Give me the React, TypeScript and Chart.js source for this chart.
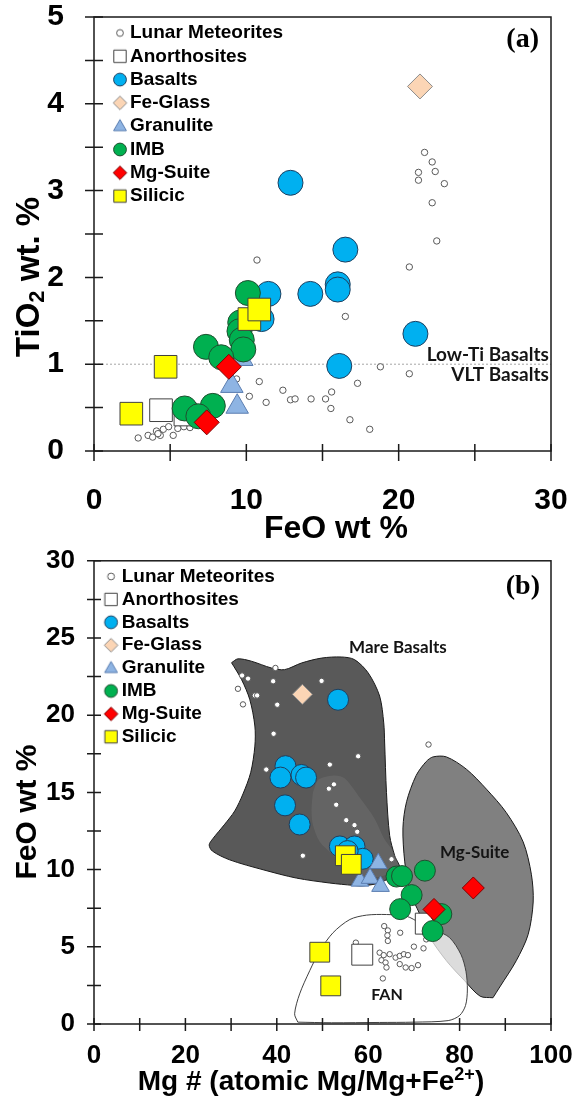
import React, { useEffect, useRef } from 'react';
import { Chart, registerables } from 'chart.js';

Chart.register(...registerables);

type Pt = [number, number];

// ---------------- Series names (legend order) ----------------
const seriesNames = ['Lunar Meteorites', 'Anorthosites', 'Basalts', 'Fe-Glass', 'Granulite', 'IMB', 'Mg-Suite', 'Silicic'];

// ---------------- Panel (a): FeO wt % (x) vs TiO2 wt % (y) ----------------
const aLunarMeteorites: Pt[] = [
  [21.7, 3.44], [22.2, 3.33], [21.3, 3.21], [22.4, 3.22], [21.3, 3.12], [23.0, 3.08], [22.2, 2.86], [22.5, 2.42],
  [20.7, 2.12], [16.5, 1.55], [18.8, 0.97], [20.7, 0.89], [17.3, 0.78], [16.8, 0.36], [18.1, 0.25], [10.7, 2.2],
  [10.85, 0.8], [12.4, 0.7], [12.9, 0.59], [13.2, 0.6], [14.25, 0.6], [15.2, 0.6], [15.6, 0.68], [15.55, 0.49],
  [10.2, 0.63], [11.3, 0.56], [9.36, 0.83],
  [2.9, 0.15], [3.55, 0.18], [3.85, 0.16], [4.1, 0.23], [4.35, 0.18], [4.55, 0.25], [4.9, 0.28], [5.2, 0.18],
  [5.5, 0.26], [5.9, 0.28], [6.3, 0.27], [4.2, 0.2],
];
const aAnorthosites: Pt[] = [[4.4, 0.47], [6.0, 0.42]];
const aBasalts: Pt[] = [[12.9, 3.09], [16.5, 2.32], [16.0, 1.92], [16.0, 1.86], [14.2, 1.81], [11.45, 1.81], [21.1, 1.35], [16.1, 0.98], [11.0, 1.52]];
const aFeGlass: Pt[] = [[21.4, 4.2]];
const aGranulite: Pt[] = [[9.05, 0.75], [9.4, 0.51], [9.7, 1.06]];
const aIMB: Pt[] = [[10.1, 1.82], [9.6, 1.48], [9.55, 1.38], [9.7, 1.28], [9.8, 1.17], [7.35, 1.2], [8.35, 1.08], [5.95, 0.49], [7.8, 0.52], [6.85, 0.4]];
const aMgSuite: Pt[] = [[8.85, 0.97], [7.4, 0.33]];
const aSilicic: Pt[] = [[2.45, 0.43], [4.7, 0.97], [10.2, 1.52], [10.85, 1.63]];
const aBoundaryLine: Pt[] = [[0, 1], [30, 1]];
const aXTickLabels = ['0', '10', '20', '30'];
const aYTickLabels = ['0', '1', '2', '3', '4', '5'];
const aBoundaryLabels = ['Low-Ti Basalts', 'VLT Basalts'];

// ---------------- Panel (b): Mg# (x) vs FeO wt % (y) ----------------
const bLunarMeteorites: Pt[] = [
  [39.7, 23.06], [32.4, 22.57], [33.7, 22.37], [39.2, 22.2], [49.8, 22.22], [31.5, 21.71], [35.2, 21.28], [35.7, 21.28],
  [32.6, 20.7], [40.1, 20.68], [39.3, 18.8], [57.8, 17.34], [37.7, 16.48], [51.6, 16.8], [52.5, 15.52], [51.4, 15.24],
  [53.0, 14.2], [55.2, 13.2], [57.0, 12.88], [57.6, 12.45], [45.7, 10.9], [65.1, 10.67], [73.2, 18.1],
  [57.3, 5.27], [63.5, 6.34], [64.3, 6.06], [64.2, 5.74], [64.3, 5.38], [67.0, 5.91], [62.5, 4.62], [63.4, 4.46],
  [64.7, 4.52], [66.0, 4.3], [66.9, 4.41], [67.8, 4.52], [68.7, 4.46], [62.9, 4.13], [63.8, 3.98], [66.9, 3.88],
  [68.2, 3.66], [69.5, 3.62], [70.9, 3.81], [64.0, 3.66], [63.2, 2.95], [70.0, 5.01], [72.1, 4.9], [72.7, 5.48],
];
const bAnorthosites: Pt[] = [[58.7, 4.49], [72.6, 6.5]];
const bBasalts: Pt[] = [[53.4, 21.0], [41.9, 16.7], [40.8, 15.96], [45.4, 16.13], [46.4, 15.96], [41.8, 14.16], [45.0, 12.92], [53.8, 11.5], [57.0, 11.5], [58.8, 10.7], [55.5, 11.2]];
const bFeGlass: Pt[] = [[45.6, 21.35]];
const bGranulite: Pt[] = [[62.2, 10.4], [58.2, 9.26], [60.4, 9.44], [62.7, 8.92]];
const bIMB: Pt[] = [[66.2, 9.55], [67.4, 9.58], [72.4, 9.93], [69.5, 8.35], [67.0, 7.44], [76.0, 7.12], [74.1, 6.02]];
const bMgSuite: Pt[] = [[83.0, 8.81], [74.4, 7.42]];
const bSilicic: Pt[] = [[55.0, 10.9], [56.3, 10.34], [49.4, 4.65], [51.8, 2.47]];
const bXTickLabels = ['0', '20', '40', '60', '80', '100'];
const bYTickLabels = ['0', '5', '10', '15', '20', '25', '30'];

// field outlines (data units)
const mareBasaltsField: Pt[] = [
  [30.1, 23.4], [31.5, 23.65], [34.4, 23.5], [38.8, 23.06], [41.7, 22.95], [45.4, 23.38], [49.8, 23.7], [54.1, 23.77],
  [57.0, 23.6], [60.0, 22.74], [62.5, 21.24], [63.4, 19.5], [63.6, 18.2], [64.0, 15.0], [64.7, 12.2], [65.8, 10.9],
  [66.9, 10.0], [63.0, 9.2], [59.0, 8.95], [56.7, 8.98], [51.6, 9.13], [44.3, 9.45], [37.0, 9.99], [29.7, 10.63],
  [25.9, 11.2], [25.2, 11.6], [26.0, 12.0], [28.5, 12.9], [30.8, 13.8], [32.6, 14.9], [34.3, 16.3], [35.2, 18.0],
  [35.2, 19.3], [34.1, 21.0], [32.3, 22.3], [30.1, 23.4],
];
const mareInnerField: Pt[] = [
  [47.9, 15.0], [49.0, 15.8], [50.5, 16.0], [52.7, 16.1], [54.9, 15.9], [58.3, 14.6], [61.4, 13.3], [63.5, 12.0],
  [65.4, 11.2], [66.5, 10.2], [62.0, 9.5], [56.0, 9.8], [52.3, 10.95], [49.4, 11.8], [47.9, 12.9], [47.6, 13.9], [47.9, 15.0],
];
const mgSuiteField: Pt[] = [
  [87.3, 1.7], [88.8, 2.4], [92.4, 4.1], [95.0, 5.8], [96.1, 7.9], [95.7, 9.7], [93.9, 11.8], [90.2, 13.7],
  [85.9, 15.2], [81.5, 16.5], [77.1, 17.3], [74.2, 17.3], [72.7, 17.0], [70.5, 16.1], [68.4, 14.4], [67.6, 12.7],
  [68.0, 10.5], [69.1, 8.6], [71.3, 7.1], [73.3, 5.7], [77.1, 4.1], [81.1, 2.8], [84.5, 1.8], [87.3, 1.7],
];
const fanField: Pt[] = [
  [44.6, 0.12], [43.9, 0.66], [45.0, 1.95], [47.2, 3.45], [49.4, 4.73], [52.3, 5.91], [56.0, 6.77], [59.6, 7.05],
  [64.0, 7.09], [68.4, 6.98], [71.3, 6.55], [74.5, 6.1], [77.8, 5.6], [80.3, 4.5], [81.4, 3.4], [81.7, 2.2],
  [81.3, 1.2], [80.0, 0.55], [77.5, 0.22], [70.0, 0.12], [62.5, 0.1], [52.0, 0.08], [44.6, 0.12],
];
const fieldNames = ['Mare Basalts', 'Mg-Suite', 'FAN'];
const fieldLabelAnchors: Pt[] = [[66.5, 24.4], [83.3, 11.08], [64.1, 1.87]];

// ---------------- Styles ----------------
const FAMILY = '"Liberation Sans", Arial, sans-serif';
const seriesStyles = [
  { shape: 'circle', fill: '#ffffff', stroke: '#595959' },
  { shape: 'rect', fill: '#ffffff', stroke: '#404040' },
  { shape: 'circle', fill: '#00B0F0', stroke: '#1F3F5F' },
  { shape: 'rectRot', fill: '#FBD5B5', stroke: '#8C8C8C' },
  { shape: 'triangle', fill: '#8EB4E3', stroke: '#5A7DB0' },
  { shape: 'circle', fill: '#00B050', stroke: '#1F4F2F' },
  { shape: 'rectRot', fill: '#FF0000', stroke: '#7F0000' },
  { shape: 'rect', fill: '#FFFF00', stroke: '#404040' },
];
const drawOrder = [8, 7, 6, 3, 5, 4, 2, 1];
const legendMarkerSize = [3.4, 6.2, 6.4, 6.8, 7.4, 6.4, 6.8, 6.2];

// legend marker image; the marker sits `shift` px right of the image centre
function markerImage(i: number, shift: number) {
  const c = document.createElement('canvas');
  c.width = 33; c.height = 17;
  const g = c.getContext('2d')!;
  const m = 8.5, cx = 16.5 + shift, r = legendMarkerSize[i];
  const s = seriesStyles[i];
  g.beginPath();
  if (s.shape === 'circle') g.arc(cx, m, r, 0, Math.PI * 2);
  else if (s.shape === 'rect') g.rect(cx - r, m - r, 2 * r, 2 * r);
  else if (s.shape === 'rectRot') { g.moveTo(cx, m - r); g.lineTo(cx + r, m); g.lineTo(cx, m + r); g.lineTo(cx - r, m); }
  else { const h = r * Math.sqrt(3) / 2; g.moveTo(cx, m - r * 0.9); g.lineTo(cx + h, m + r * 0.6); g.lineTo(cx - h, m + r * 0.6); }
  g.closePath();
  g.fillStyle = s.fill; g.fill();
  g.lineWidth = 1; g.strokeStyle = s.stroke; g.stroke();
  return c;
}

const toPoints = (arr: Pt[]) => arr.map(([x, y]) => ({ x, y }));

function drawRich(ctx: CanvasRenderingContext2D, t: any) {
  ctx.save();
  ctx.translate(t.x, t.y);
  if (t.rotate) ctx.rotate(t.rotate);
  ctx.fillStyle = '#000';
  ctx.textBaseline = 'middle';
  ctx.textAlign = 'left';
  let total = 0;
  const widths = t.parts.map((p: any) => {
    ctx.font = `bold ${p.size}px ${FAMILY}`;
    const w = ctx.measureText(p.text).width;
    total += w;
    return w;
  });
  let x = -total / 2;
  t.parts.forEach((p: any, i: number) => {
    ctx.font = `bold ${p.size}px ${FAMILY}`;
    ctx.fillText(p.text, x, p.dy || 0);
    x += widths[i];
  });
  ctx.restore();
}

const decorPlugin = {
  id: 'decor',
  afterDraw(chart: any, _args: any, o: any) {
    const { ctx, chartArea: ca } = chart;
    const xs = chart.scales.x, ys = chart.scales.y;
    ctx.save();
    ctx.strokeStyle = '#1a1a1a';
    ctx.lineWidth = 1.5;
    ctx.strokeRect(ca.left, ca.top, ca.right - ca.left, ca.bottom - ca.top);
    ctx.beginPath();
    xs.ticks.forEach((_: any, i: number) => {
      const px = xs.getPixelForTick(i);
      ctx.moveTo(px, ca.bottom - o.xIn); ctx.lineTo(px, ca.bottom + o.xOut);
    });
    ys.ticks.forEach((_: any, i: number) => {
      const py = ys.getPixelForTick(i);
      ctx.moveTo(ca.left - o.yOut, py); ctx.lineTo(ca.left + o.yIn, py);
    });
    ctx.stroke();
    for (const n of o.notes) {
      ctx.font = n.font; ctx.fillStyle = '#141414'; ctx.textAlign = n.align; ctx.textBaseline = 'middle';
      ctx.fillText(n.text, xs.getPixelForValue(n.x), ys.getPixelForValue(n.y));
    }
    const tg = o.tag;
    ctx.font = 'bold 28px "Liberation Serif", "Times New Roman", serif';
    ctx.fillStyle = '#000'; ctx.textAlign = 'right'; ctx.textBaseline = 'middle';
    ctx.fillText(tg.text, ca.right - tg.dr, ca.top + tg.dt);
    for (const t of o.titles) drawRich(ctx, t);
    ctx.restore();
  },
};

const legendPlace = {
  id: 'legendPlace',
  afterUpdate(chart: any, _a: any, o: any) {
    const lg = chart.legend;
    if (!lg) return;
    const ca = chart.chartArea;
    const w = lg.width, h = lg.height;
    lg.left = ca.left + o.dx; lg.top = ca.top + o.dy;
    lg.right = lg.left + w; lg.bottom = lg.top + h;
    if (lg.adjustHitBoxes) lg.adjustHitBoxes();
  },
};

function buildConfig(p: any) {
  const datasets: any[] = p.series.map((data: Pt[], i: number) => ({
    label: seriesNames[i],
    data: toPoints(data),
    pointStyle: seriesStyles[i].shape,
    pointRadius: p.radii[i],
    backgroundColor: seriesStyles[i].fill,
    borderColor: seriesStyles[i].stroke,
    borderWidth: 1,
    order: drawOrder[i],
  }));
  p.shapes.forEach((s: any) => datasets.push({
    label: s.label,
    data: toPoints(s.data),
    showLine: true,
    pointRadius: 0,
    fill: s.fill ? 'shape' : false,
    backgroundColor: s.fill || 'transparent',
    borderColor: s.stroke,
    borderWidth: s.width,
    borderDash: s.dash || [],
    tension: s.tension || 0,
    order: s.order,
  }));
  const tickFont = { family: FAMILY, size: p.tickSize, weight: 'bold' as const };
  return {
    type: 'scatter' as const,
    data: { datasets },
    options: {
      responsive: false,
      animation: false as const,
      events: [],
      layout: { padding: { left: 0, right: 22, top: p.top, bottom: 0 } },
      scales: {
        x: {
          type: 'linear', position: 'bottom', min: p.xMin, max: p.xMax,
          grid: { display: false, drawTicks: false }, border: { display: false },
          ticks: {
            stepSize: p.xStep, autoSkip: false, maxRotation: 0, padding: p.xPad, color: '#000', font: tickFont,
            callback: (v: number) => (p.xLabels.includes(String(v)) ? String(v) : ''),
          },
          afterFit: (s: any) => { s.height = p.xHeight; s.paddingLeft = 0; s.paddingRight = 0; },
        },
        y: {
          type: 'linear', position: 'left', min: p.yMin, max: p.yMax,
          grid: { display: false, drawTicks: false }, border: { display: false },
          ticks: {
            stepSize: p.yStep, autoSkip: false, padding: p.yPad, color: '#000', font: tickFont,
            callback: (v: number) => (p.yLabels.includes(String(v)) ? String(v) : ''),
          },
          afterFit: (s: any) => { s.width = 94; s.paddingTop = 0; s.paddingBottom = 0; },
        },
      },
      plugins: {
        tooltip: { enabled: false },
        legend: {
          display: true,
          position: 'chartArea',
          align: 'start',
          labels: {
            usePointStyle: true,
            boxWidth: 12,
            boxHeight: 12,
            padding: p.legend.padding,
            color: '#000',
            font: { family: FAMILY, size: 19, weight: 'bold' },
            generateLabels: () => seriesNames.map((name, i) => ({
              text: name,
              pointStyle: markerImage(i, p.legend.shift),
              fillStyle: seriesStyles[i].fill,
              strokeStyle: seriesStyles[i].stroke,
              fontColor: '#000',
              lineWidth: 1,
              hidden: false,
              datasetIndex: i,
            })),
          },
        },
        legendPlace: { dx: p.legend.dx, dy: p.legend.dy },
        decor: p.decor,
      },
    },
    plugins: [legendPlace, decorPlugin],
  } as any;
}

const buildA = () => buildConfig({
  series: [aLunarMeteorites, aAnorthosites, aBasalts, aFeGlass, aGranulite, aIMB, aMgSuite, aSilicic],
  radii: [3.2, 16, 12.5, 12.5, 13, 12.5, 12.5, 16],
  shapes: [{ label: 'boundary', data: aBoundaryLine, stroke: '#a6a6a6', width: 1, dash: [2, 2], order: 9 }],
  xMin: 0, xMax: 30, xStep: 5, yMin: 0, yMax: 5, yStep: 0.5,
  xLabels: aXTickLabels, yLabels: aYTickLabels,
  tickSize: 30, xPad: 32, yPad: 30, top: 17, xHeight: 94,
  legend: { padding: 4.3, dx: 10.2, dy: 2.2, shift: 5.5 },
  decor: {
    xIn: 7, xOut: 10, yIn: 9, yOut: 9,
    tag: { text: '(a)', dr: 12, dt: 23 },
    notes: [
      { text: aBoundaryLabels[0], x: 29.86, y: 1.11, align: 'right', font: 'bold 19px Lato, "Open Sans", sans-serif' },
      { text: aBoundaryLabels[1], x: 29.86, y: 0.875, align: 'right', font: 'bold 19px Lato, "Open Sans", sans-serif' },
    ],
    titles: [
      { x: 336, y: 529, parts: [{ text: 'FeO wt %', size: 32 }] },
      { x: 30, y: 277, rotate: -Math.PI / 2, parts: [{ text: 'TiO', size: 33 }, { text: '2', size: 22, dy: 8 }, { text: ' wt. %', size: 33 }] },
    ],
  },
});

const buildB = () => buildConfig({
  series: [bLunarMeteorites, bAnorthosites, bBasalts, bFeGlass, bGranulite, bIMB, bMgSuite, bSilicic],
  radii: [2.7, 14.8, 10.5, 10, 10.2, 10.5, 11, 14],
  shapes: [
    { label: fieldNames[2], data: fanField, fill: 'rgba(255,255,255,0.72)', stroke: '#404040', width: 1, tension: 0.3, order: 9 },
    { label: fieldNames[1], data: mgSuiteField, fill: '#808080', stroke: '#1a1a1a', width: 1, tension: 0.3, order: 10 },
    { label: 'Mare core', data: mareInnerField, fill: 'rgba(255,255,255,0.07)', stroke: 'rgba(0,0,0,0)', width: 0, tension: 0.3, order: 11 },
    { label: fieldNames[0], data: mareBasaltsField, fill: '#595959', stroke: '#1a1a1a', width: 1, tension: 0.3, order: 12 },
  ],
  xMin: 0, xMax: 100, xStep: 10, yMin: 0, yMax: 30, yStep: 2.5,
  xLabels: bXTickLabels, yLabels: bYTickLabels,
  tickSize: 26, xPad: 16, yPad: 19, top: 12, xHeight: 74,
  legend: { padding: 3.9, dx: 2.3, dy: 2.3, shift: 4.8 },
  decor: {
    xIn: 6, xOut: 7, yIn: 7, yOut: 7,
    tag: { text: '(b)', dr: 11, dt: 26 },
    notes: [
      { text: fieldNames[0], x: fieldLabelAnchors[0][0], y: fieldLabelAnchors[0][1], align: 'center', font: 'bold 17px Lato, "Open Sans", sans-serif' },
      { text: fieldNames[1], x: fieldLabelAnchors[1][0], y: fieldLabelAnchors[1][1], align: 'center', font: 'bold 17px Lato, "Open Sans", sans-serif' },
      { text: fieldNames[2], x: fieldLabelAnchors[2][0], y: fieldLabelAnchors[2][1], align: 'center', font: 'bold 16px Lato, "Open Sans", sans-serif' },
    ],
    titles: [
      { x: 311, y: 537, parts: [{ text: 'Mg # (atomic Mg/Mg+Fe', size: 28 }, { text: '2+', size: 18, dy: -7 }, { text: ')', size: 28 }] },
      { x: 28, y: 267, rotate: -Math.PI / 2, parts: [{ text: 'FeO wt %', size: 30 }] },
    ],
  },
});

function ChartCanvas({ build, width, height }: { build: () => any; width: number; height: number }) {
  const ref = useRef<HTMLCanvasElement | null>(null);
  useEffect(() => {
    if (!ref.current) return;
    const chart = new Chart(ref.current, build());
    return () => chart.destroy();
  }, [build]);
  return <canvas ref={ref} width={width} height={height} style={{ display: 'block', width, height }} />;
}

export default function App() {
  return (
    <div style={{ position: 'absolute', left: 0, top: 0, width: 573, height: 1098, background: '#fff' }}>
      <ChartCanvas build={buildA} width={573} height={545} />
      <ChartCanvas build={buildB} width={573} height={553} />
    </div>
  );
}
